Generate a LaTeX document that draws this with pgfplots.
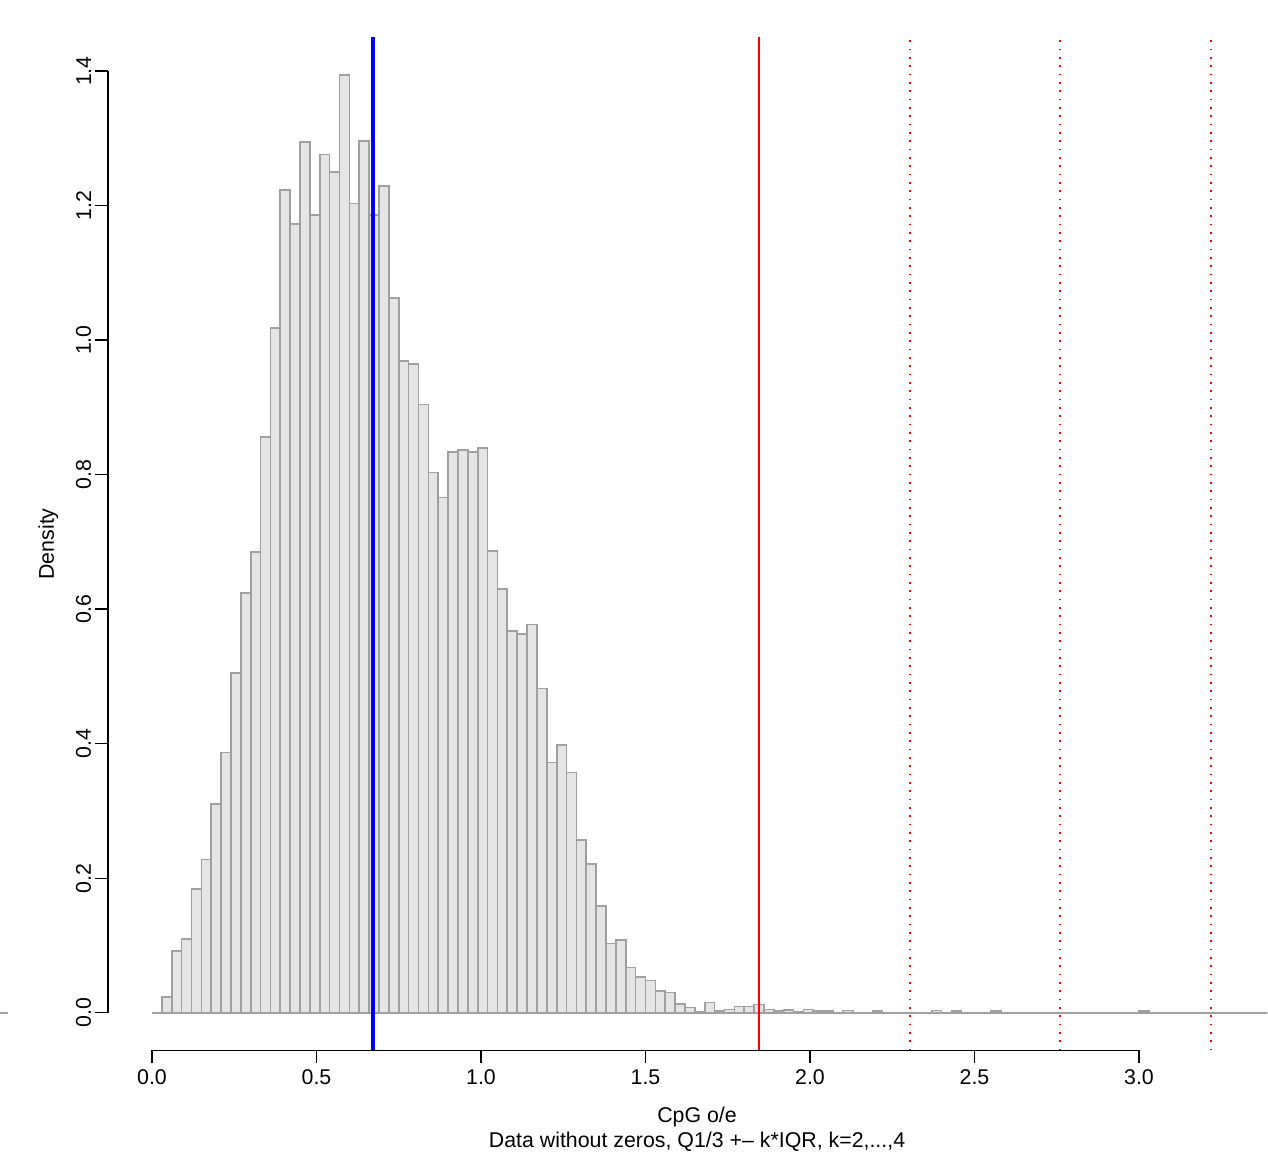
\documentclass[border=0pt]{standalone}
\usepackage{fontspec}
\setmainfont{Liberation Sans}
\usepackage{pgfplots}
\pgfplotsset{compat=1.18}
\usepackage{pgfplotstable}
\definecolor{barfill}{HTML}{E5E5E5}
\definecolor{barline}{HTML}{A0A0A0}
\definecolor{rblue}{HTML}{0000FF}
\definecolor{rred}{HTML}{FF0000}

\pgfplotstableread{
x y
0.00 0
0.03 0.023
0.06 0.092
0.09 0.110
0.12 0.184
0.15 0.228
0.18 0.310
0.21 0.387
0.24 0.505
0.27 0.624
0.30 0.685
0.33 0.856
0.36 1.018
0.39 1.223
0.42 1.173
0.45 1.295
0.48 1.186
0.51 1.276
0.54 1.250
0.57 1.394
0.60 1.203
0.63 1.296
0.66 1.186
0.69 1.229
0.72 1.063
0.75 0.969
0.78 0.964
0.81 0.904
0.84 0.803
0.87 0.766
0.90 0.834
0.93 0.837
0.96 0.834
0.99 0.840
1.02 0.686
1.05 0.630
1.08 0.567
1.11 0.563
1.14 0.577
1.17 0.482
1.20 0.372
1.23 0.398
1.26 0.357
1.29 0.257
1.32 0.221
1.35 0.159
1.38 0.103
1.41 0.108
1.44 0.067
1.47 0.053
1.50 0.048
1.53 0.032
1.56 0.030
1.59 0.013
1.62 0.0075
1.65 0.002
1.68 0.015
1.71 0.003
1.74 0.005
1.77 0.009
1.80 0.009
1.83 0.012
1.86 0.005
1.89 0.003
1.92 0.004
1.95 0.002
1.98 0.005
2.01 0.0025
2.04 0.0025
2.07 0
2.10 0.0035
2.13 0
2.16 0
2.19 0.0025
2.22 0
2.25 0
2.28 0
2.31 0
2.34 0
2.37 0.0035
2.40 0
2.43 0.0025
2.46 0
2.49 0
2.52 0
2.55 0.0025
2.58 0
2.61 0
2.64 0
2.67 0
2.70 0
2.73 0
2.76 0
2.79 0
2.82 0
2.85 0
2.88 0
2.91 0
2.94 0
2.97 0
3.00 0.0025
3.03 0
3.06 0
3.09 0
3.12 0
3.15 0
3.18 0
3.21 0
3.24 0
3.27 0
3.30 0
3.33 0
3.36 0
3.39 0
}\histdata

\begin{document}
\begin{tikzpicture}[font=\fontsize{6.4pt}{7.7pt}\selectfont]
\useasboundingbox (0,0) rectangle (380.4pt,345.6pt);
\begin{axis}[
  at={(32.4pt,30.48pt)}, anchor=south west,
  scale only axis, width=348pt, height=303.9pt,
  xmin=-0.13374, xmax=3.3921, ymin=-0.05605, ymax=1.45004,
  clip=false,
  axis lines*=left,
  axis line style={draw=none},
  tick align=outside,
  major tick length=3.9pt,
  tick style={black, line width=0.4pt},
  xtick={0,0.5,1,1.5,2,2.5,3},
  ytick={0,0.2,0.4,0.6,0.8,1.0,1.2,1.4},
  minor tick num=0,
  /pgf/number format/.cd, fixed, fixed zerofill, precision=1, assume math mode=true,
  /pgfplots/.cd,
  tick label style={font=\fontsize{6.4pt}{7.7pt}\selectfont},
  xticklabel style={anchor=north, inner sep=0pt},
  xticklabel shift=1.8pt,
  yticklabel style={rotate=90, anchor=south, inner sep=0pt},
  yticklabel shift=1.0pt,
  xlabel={CpG o/e},
  xlabel style={at={(axis description cs:0.5078,-0.0710)}, anchor=base, inner sep=0pt, font=\fontsize{6.4pt}{7.7pt}\selectfont},
  ylabel={Density},
  ylabel style={at={(axis description cs:-0.0467,0.5)}, anchor=base, inner sep=0pt, font=\fontsize{6.4pt}{7.7pt}\selectfont},
]
\addplot[ybar interval, fill=barfill, draw=barline, line width=0.5pt] table[x=x,y=y] {\histdata};
\addplot[color=rblue, line width=1.2pt] coordinates {(0.671,-0.05605) (0.671,1.45004)};
\addplot[color=rred, line width=0.65pt] coordinates {(1.846,-0.05605) (1.846,1.45004)};
\addplot[color=rred, line width=0.55pt, dash pattern=on 0.55pt off 1.95pt] coordinates {(2.304,-0.05605) (2.304,1.45004)};
\addplot[color=rred, line width=0.55pt, dash pattern=on 0.55pt off 1.95pt] coordinates {(2.761,-0.05605) (2.761,1.45004)};
\addplot[color=rred, line width=0.55pt, dash pattern=on 0.55pt off 1.95pt] coordinates {(3.219,-0.05605) (3.219,1.45004)};
\draw[barline, line width=0.5pt] (axis cs:-0.4621,0) -- (axis cs:-0.4377,0);
\draw[black, line width=0.4pt] (axis cs:0,-0.05605) -- (axis cs:3,-0.05605);
\draw[black, line width=0.4pt] (axis cs:-0.13374,0) -- (axis cs:-0.13374,1.4);
\node[anchor=base, inner sep=0pt] at (axis description cs:0.5078,-0.0957) {Data without zeros, Q1/3 +– k*IQR, k=2,...,4};
\end{axis}
\end{tikzpicture}
\end{document}
